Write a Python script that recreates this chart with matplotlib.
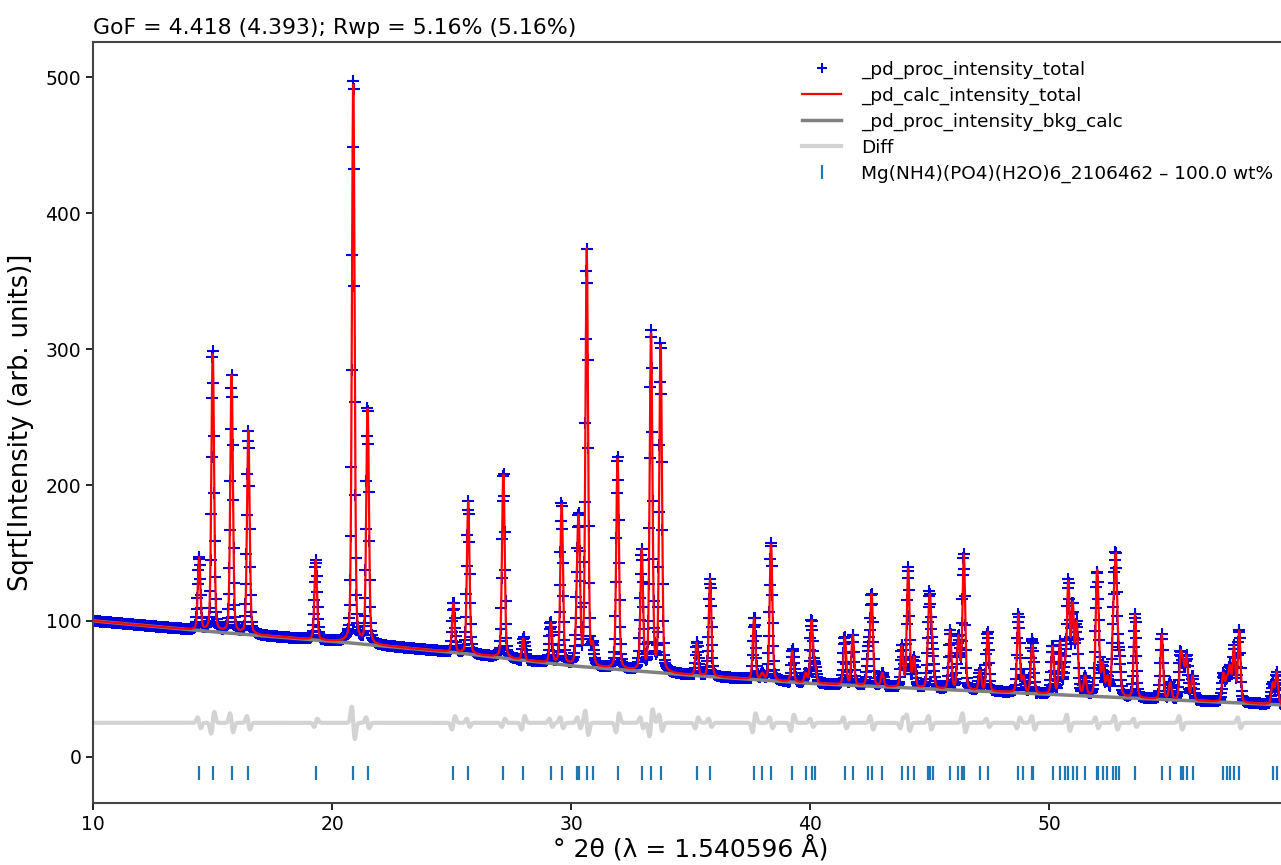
"""Rietveld 정제 결과 — 관측·계산·배경·차이 곡선과 반사 위치를 한 그림에."""

import matplotlib
matplotlib.use("Agg")
import matplotlib.pyplot as plt
import numpy as np

plt.rcParams["font.family"] = ["DejaVu Sans"]

TITLE = "GoF = 4.418 (4.393); Rwp = 5.16% (5.16%)"
PHASE = "Mg(NH4)(PO4)(H2O)6_2106462 \u2013 100.0 wt%"

# 반사 위치(2θ)와 그림에서 읽은 봉우리 꼭대기 값 (sqrt 강도)
PEAK_POS = [14.44, 15.01, 15.80, 16.50, 19.32, 20.89, 21.49, 25.08, 25.70,
            27.17, 28.00, 29.16, 29.61, 30.26, 30.33, 30.66, 30.91, 31.95,
            32.96, 33.35, 33.75, 35.26, 35.82, 37.66, 38.00, 38.37, 39.26,
            39.82, 40.07, 40.21, 41.46, 41.79, 42.44, 42.58, 43.03, 43.84,
            44.11, 44.35, 44.95, 45.02, 45.13, 45.86, 46.21, 46.35, 46.44,
            47.11, 47.44, 48.72, 48.93, 49.28, 49.34, 50.15, 50.46, 50.67,
            50.81, 50.99, 51.16, 51.51, 52.00, 52.06, 52.25, 52.44, 52.69,
            52.80, 52.94, 53.60, 54.72, 55.07, 55.51, 55.62, 55.76, 56.01,
            57.29, 57.44, 57.57, 57.74, 57.96, 59.36, 59.53]
PEAK_TOP = [147, 300, 281, 240, 145, 502, 259, 113, 188,
            210, 87, 99, 188, 150, 176, 374, 85, 222,
            153, 316, 307, 84, 131, 102, 62, 158, 78,
            62, 101, 70, 88, 90, 80, 120, 62, 82,
            140, 74, 100, 120, 85, 93, 90, 85, 149,
            64, 92, 105, 60, 80, 78, 82, 85, 70,
            131, 115, 100, 60, 135, 120, 70, 60, 112,
            150, 80, 105, 90, 55, 78, 72, 75, 60,
            62, 60, 68, 82, 93, 55, 63]

# 배경 곡선 제어점
BKG_POS = [10, 15, 20, 25, 30, 35, 40, 45, 50, 55, 60]
BKG_VAL = [100, 92, 85, 77, 67, 60, 54, 50, 46, 42, 38]

# 차이 곡선의 흔들림 (위치, 진폭)
DIFF_POS = [14.44, 15.01, 15.80, 16.50, 19.32, 20.89, 21.49, 25.08, 25.70,
            27.17, 28.00, 29.16, 29.61, 30.33, 30.66, 31.95, 32.96, 33.35,
            33.75, 35.26, 35.82, 37.66, 38.37, 39.26, 40.07, 41.46, 42.58,
            43.84, 44.11, 45.02, 46.44, 47.44, 48.72, 49.34, 50.81, 52.00,
            52.80, 53.60, 55.51, 57.96]
DIFF_AMP = [4, -8, 7, 5, -3, 12, 4, -5, 3,
            -3, -5, 3, 4, 4, 9, -7, 4, -10,
            6, -4, 3, -7, 4, -6, 3, 4, 5,
            -4, 6, 5, 7, 3, -4, 5, 6, 4,
            5, 3, 5, 4]
DIFF_OFFSET = 25
TICK_Y = -12

STEP = 0.02
FWHM = 0.13
ETA = 0.25      # 로렌츠 성분 비율


def profile(dx):
    g = np.exp(-4 * np.log(2) * dx ** 2 / FWHM ** 2)
    lo = 1 / (1 + 4 * dx ** 2 / FWHM ** 2)
    return (1 - ETA) * g + ETA * lo


def build_pattern():
    """읽은 봉우리 높이에 맞춰 계산 곡선·관측점·차이를 만든다."""
    tt = np.arange(10, 60 + STEP / 2, STEP)
    bkg = np.interp(tt, BKG_POS, BKG_VAL)
    pos = np.array(PEAK_POS)
    top = np.array(PEAK_TOP, dtype=float) - np.interp(pos, BKG_POS, BKG_VAL)
    G = profile(pos[:, None] - pos[None, :])
    active = np.ones(len(pos), bool)
    amp = np.zeros(len(pos))
    for _ in range(6):
        amp[:] = 0
        sub = np.ix_(active, active)
        amp[active] = np.linalg.solve(G[sub], top[active])
        if (amp >= 0).all():
            break
        active &= amp > 0
    amp = np.clip(amp, 0, None)
    calc = bkg + profile(tt[:, None] - pos[None, :]) @ amp
    sig = FWHM / 2.0
    d = tt[:, None] - np.array(DIFF_POS)[None, :]
    wig = (-d / sig * np.exp(0.5 - 0.5 * (d / sig) ** 2)) @ np.array(DIFF_AMP)
    obs = calc + wig
    return tt, obs, calc, bkg, wig + DIFF_OFFSET


tt, obs, calc, bkg, diff = build_pattern()

fig = plt.figure(figsize=(12.81, 8.65), dpi=100)
ax = fig.add_axes([93 / 1281, 62 / 865, (1288 - 93) / 1281, (803 - 42) / 865])

h_obs, = ax.plot(tt, obs, "+", color="#0000dd", ms=9, mew=1.5, zorder=1)
h_calc, = ax.plot(tt, calc, "-", color="red", lw=1.6, zorder=3)
h_bkg, = ax.plot(tt, bkg, "-", color="gray", lw=2.5, zorder=2)
h_diff, = ax.plot(tt, diff, "-", color="lightgray", lw=3, zorder=2)
h_tick, = ax.plot(PEAK_POS, [TICK_Y] * len(PEAK_POS), "|", color="#1f77b4",
                  ms=10, mew=1.6)

ax.set_xlim(10, 60)
ax.set_ylim(-34, 526)
ax.set_xticks([10, 20, 30, 40, 50])
ax.set_yticks([0, 100, 200, 300, 400, 500])
ax.tick_params(labelsize=13.5, width=1.2, length=5)
for sp in ax.spines.values():
    sp.set_linewidth(1.5)
    sp.set_color("#444444")

ax.set_xlabel("\u00b0 2\u03b8 (\u03bb = 1.540596 \u00c5)", fontsize=18,
              labelpad=1)
ax.set_ylabel("Sqrt[Intensity (arb. units)]", fontsize=18.5, labelpad=8)
ax.set_title(TITLE, loc="left", fontsize=15.8, pad=6)
labels = ["_pd_proc_intensity_total", "_pd_calc_intensity_total",
          "_pd_proc_intensity_bkg_calc", "Diff", PHASE]
leg = ax.legend([h_obs, h_calc, h_bkg, h_diff, h_tick], labels,
                loc="upper right", bbox_to_anchor=(1290 / 1281, 1 - 44 / 865),
                bbox_transform=fig.transFigure, frameon=False, fontsize=13.3,
                handlelength=2.1, handletextpad=1.1, labelspacing=0.42)
leg.legend_handles[0].set_markersize(7)

fig.savefig("out.png", dpi=100)
